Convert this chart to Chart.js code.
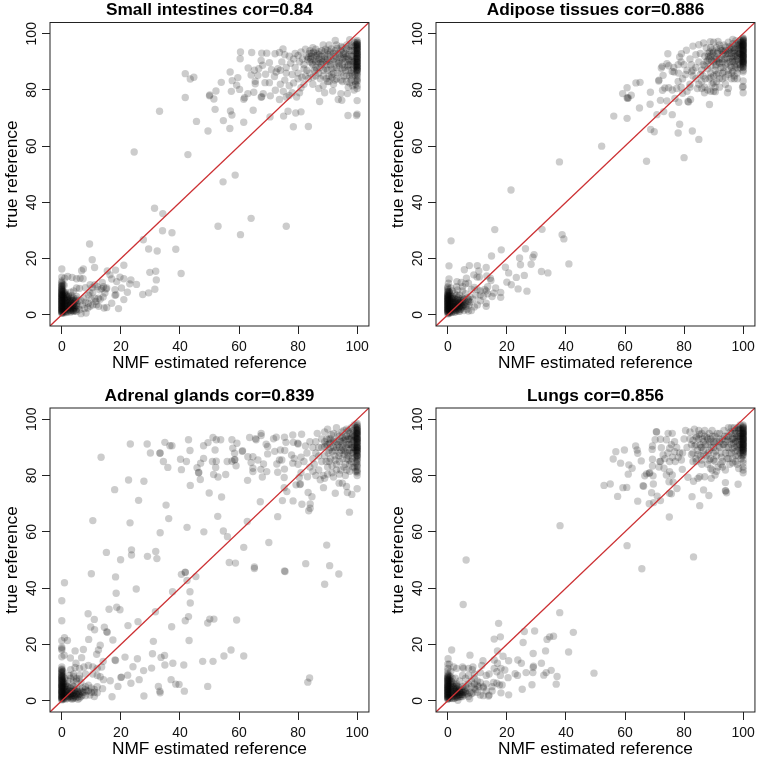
<!DOCTYPE html>
<html><head><meta charset="utf-8">
<script src="https://cdn.jsdelivr.net/npm/chart.js@4/dist/chart.umd.min.js"></script>
<style>html,body{margin:0;padding:0;background:#fff}canvas{position:absolute}</style>
</head><body>
<canvas id="c0" style="left:0;top:0"></canvas>
<canvas id="c1" style="left:386px;top:0"></canvas>
<canvas id="c2" style="left:0;top:386px"></canvas>
<canvas id="c3" style="left:386px;top:386px"></canvas>
<script>
const panelTitles=["Small intestines cor=0.84","Adipose tissues cor=0.886","Adrenal glands cor=0.839","Lungs cor=0.856"];
const xAxisTitle="NMF estimated reference";
const yAxisTitle="true reference";
const tickValues=[0,20,40,60,80,100];
const axisLimits=[-4,104];

const smallPoints=[[24.5,57.9],[33.1,72.4],[41.8,85.8],[43.5,83.9],[44.7,84.5],[41.8,77.3],[42.7,57],[45.6,68.8],[49.5,65.4],[50,77.9],[50.1,78.2],[51.5,76.8],[52.2,79.6],[51.9,73.1],[54,82.7],[54.7,69.1],[54.6,47.3],[58.7,49.7],[57,86.4],[57.7,83.3],[57.4,79.5],[57.1,72.5],[57.6,71.1],[56.9,66.3],[59.6,84.4],[59.2,81.7],[60.2,80.2],[60.4,91.1],[60.5,93.5],[61.6,68.5],[61.6,76.7],[61.9,77.2],[64.8,72.8],[64.3,93.3],[63.1,87.8],[64.1,85.3],[65,79.2],[65.5,82.2],[65.5,83.1],[63,78.7],[65.2,87],[66.7,87.6],[66.4,85.2],[67.5,90.5],[68,88.8],[67.7,93.1],[69.4,93.1],[67.5,77.4],[67.7,77.6],[68.2,78.7],[68.8,82.6],[70.3,82.6],[69,85.6],[70.6,77.9],[70.5,70.4],[72.3,79.9],[70.3,89.7],[71,87.2],[72.2,92.9],[73.7,93.3],[74.9,94.6],[72.6,86.4],[73.2,87.6],[73.7,76.6],[75.1,70.7],[76.6,72.4],[79.2,71.8],[81,72.2],[78.4,66.9],[83.5,67],[87.3,75.9],[93.6,76.6],[94.8,76.3],[96.9,70.9],[99.8,70.9],[100,71.4],[100,76.2],[91.7,79.6],[94.5,78.7],[96.7,78.7],[92.6,97.6],[97.5,97.9],
[31.4,37.9],[34.2,36],[34.1,29.9],[37.3,29.2],[27.6,26.7],[29.4,23.4],[32.3,22.7],[38.6,23.3],[29.8,15.1],[31.8,15.5],[40.4,14.7],[32,12.4],[31.5,9.1],[27.4,7.2],[29.4,7.8],[52.9,31.5],[60.5,28.5],[64.1,34.3],[76,31.5],[9.4,25.2],[10.3,19.6],[11.1,16.8],[0,16.3],[7.3,16.3],[6.7,15.7],[21,17.6],[18.2,15.9],[15.4,15.6],[16.3,14.2],[19.7,13.4],[21,12.8],[23.4,12.4],[23,11],[25.3,10.8],[16.9,12.7],[18.6,11.8],[13.7,11.5],[9.6,10.7],[11.2,10.7],[22.2,8],[21,5.4],[20.2,9.5],[18,8.9],[18.3,7.1],[18,6.9],[16.9,4.1],[19.2,2.2],[15.2,2.6],[14.3,2.4],[15.2,9.5],[14.1,10],[14.6,7.7],[12.9,8.9],[12.4,5.9],[11.2,5.9],[11.8,3.6],[9,4.1],[9.6,3],[8.2,.6],[6.5,.4],
[2,13.6],[3.5,13.3],[5,12.8],[6.2,13],[7.2,12.8],[1,13],[.8,10.5],[10.4,9.7],[8,9.6],[6,9.4],[5,9.5],[12,10],[13.5,9.3],[15,9.2],[10.5,8],[9,7],[7.5,6],[6.5,5],[8,4.5],[10,5.5],[11.5,4.7],[13,5.5],[14,6.3],[9.5,7.8],[7.7,2.2],[6,1.8],[5,1.2],[7,3.5],[10.5,3.5],[12.5,3],[8.8,2.4],
[72,84.8],[74,82],[75,79.5],[76,77.5],[77,78],[78,79],[79.5,77.5],[80.5,79],[75.5,83.5],[77,81.5],[78.5,82.5],[80,84],[81,80.8],[82,82],[83.5,84],[85,82],[87,80.5],[88.5,81.5],[89,79],[90,83],[92,82],[93,84],[95,83],[97,81],[99,80],[98,83.5],[74.5,90],[76,88],[77.5,89.5],[79,88],[80.5,90],[75.5,92.5],[77,92],[78.5,91],[80,92.3],[74,87],[76,86],[78,85.5],[80,86],[82,87.5],[83,92],[84,90],[84,94],[85,95],[85.5,92],[86,90],[86,88],[86.5,93],[87,91],[87,86],[88,89],[88,94],[88.5,96],[89,92],[89.5,90],[90,87],[90,94],[90.5,96],[91,92],[91,89],[92,86],[92,91],[92.5,94],[93,88],[93,96],[94,90],[94,92.5],[94.5,86],[95,95],[95,89],[95.5,91.5],[96,87],[96,93],[96.5,85],[96.5,96],[97,89],[97,91],[97.5,94],[98,87],[98,92],[98,96],[98.5,90],[98.5,85],[99,94],[99,88],[99,97],[99.3,91],[99.3,83],[84.5,92],[85,89],[85.5,87],[83.5,91.5],[84.5,93],[86,94.5],[87,92.5],[87.5,89.5],[88,91],[89,93.5],[89.5,87.5],[90,91],[90.5,85],[91,93.5],[91.5,87.5],[92,93],[93,90.5],[93.5,93],[94,88.5],[94.5,94],[95,91],[95.5,93.5],[96,90],[96.5,92],[97,87],[97.5,90],[97.5,85]];
const smallExtra=[[83.2,90.8],[83.8,93],[84.3,91],[84.7,89.6],[85.2,93.4],[85.6,90.7],[86.1,92.2],[86.3,87.2],[86.8,90],[87.1,93.6],[87.4,88],[87.9,92],[88.2,90],[88.6,87],[89.1,91],[89.3,94.5],[89.8,89],[90.2,92.5],[90.6,90],[91.2,94.6],[91.4,85.5],[91.8,90.3],[92.2,88],[92.7,92],[93.2,94.8],[93.7,89.5],[94.2,91.5],[94.6,95.5],[94.9,87.5],[95.3,92.7],[95.7,88],[96.2,91],[96.4,94.7],[96.8,88.5],[97.2,92.5],[97.3,95.5],[97.8,89],[97.9,86],[98.2,94],[98.3,90.5],[98.6,92],[98.7,87.5],[98.9,95.5],[99,90],[99.2,85.5],[99.4,93],[99.5,96],[99.6,88.5],[81.3,84.5],[82.5,85],[83,87],[84,86],[85,84.5],[86,85],[87.5,84],[88.5,85],[89.5,84],[90.5,83],[91.5,84.5],[92.5,83.5],[93.5,86],[94.5,83.5],[95.5,85],[96.5,83],[97.5,82.5],[98.5,81.5],[99.5,82],[79,93],[81,93.5],[82.5,94.5],[81.5,91],[82,89],
[.4,.9],[.4,2.7],[.4,4.6],[.4,6.6],[.4,8.4],[.4,10.6],[.9,1.6],[.9,3.6],[.9,5.6],[.9,7.6],[1.4,1.2],[1.4,3.1],[1.4,5.1],[1.4,7.1],[1.9,2],[1.9,4],[1.9,6],[2.4,2.6],[2.4,4.4],[2.4,6.4],[2.9,1.4],[2.9,3.4],[2.9,5.2],[3.4,2.2],[3.4,4.2],[3.4,6.7],[3.9,1.4],[3.9,3.2],[3.9,5.2],[4.4,2.4],[4.4,4.6],[4.9,3.2],[4.9,5.6]];
const smallEdgeY=[97.6,97,96.5,96,95.5,95,94.5,94,93.5,93,92.5,92,91.5,91,90.5,90,89.5,89,88.5,88,87.5,87,86,85,84,83,81.5,80.5,97,96,95,94,93,92,91,90,89,88,87,96.3,94.8,93.2,91.8,90.3,88.7,87.2,85.5,95.6,92.7,89.8,86.6,83.4,94.3,91.2,88.2];
const smallZeroY=[.5,1,1.5,2,2.5,3,3.5,4,4.5,5,5.5,6,6.5,7,7.5,8,8.5,9,9.5,10,10.5,11,11.5,12,13.4,.7,1.3,1.8,2.3,2.8,3.3,3.8,4.3,4.8,5.3,5.8,6.3,6.8,7.3,7.8,8.3,8.8,1.1,2.1,3.1,4.1,5.1,6.1,7.1,9.2,10.2];
const smallNearZero=[[.5,.5],[.5,2],[.5,4],[.5,6],[.7,8],[1,1],[1,3],[1,5],[1,7],[1.5,.8],[1.5,2.5],[1.5,4.5],[1.7,6.5],[2,1],[2,3],[2,5],[2.2,7],[2.5,1.5],[2.5,3.5],[2.5,5.5],[3,1],[3,2.5],[3,4],[3.2,6],[3.5,1.5],[3.5,3],[3.5,5],[4,1.2],[4,2.5],[4,4],[4,6],[4.5,1.5],[4.5,3.2],[4.7,5],[5,2],[5,4],[5,6.5],[5.5,2.8],[5.5,5],[.3,1.5],[.3,3],[.3,5],[.3,7],[.8,2.5],[.8,4],[.8,6],[1.2,2],[1.2,4],[1.2,8],[1.8,3.3],[1.8,5.5],[2.8,2],[2.8,4.7],[3.8,2],[3.8,3.6],[3,8],[4,8.5]];

const adiposePoints=[[21.4,44.4],[37.8,54.4],[52.1,60],[67.3,54.6],[80,55.9],[85,62.4],[82.8,65.4],[78,64.7],[78.5,67.8],[68.7,65.9],[69.9,65.1],[56.2,70.7],[60.7,69.9],[59.2,78.7],[60.7,80.8],[60.7,77.2],[60.9,77],[61.1,77.2],[62.1,78.1],[63.7,82.5],[65.1,82.7],[64.9,73.6],[68.5,74.9],[68.6,79.2],[70.8,71.2],[73.1,72.3],[76,71.2],[72,76.3],[74.2,76.1],[76.9,77],[78.2,75.6],[81.3,75.9],[81.5,75.7],[82.2,76.6],[88.6,74.8],[72.7,79.9],[73.5,80.7],[74.8,80.8],[71.4,83.2],[71.5,83.5],[72.9,85.2],[72.3,87.8],[72.6,88.4],[74.2,89.3],[74.8,88.6],[74.5,92.9],[76,86.6],[76.6,86.4],[78.1,86],[78.5,91.7],[79.1,92.9],[80.8,94.1],[83,95.6],[85,96.1],[88.9,97.2],[86.6,96.7],[91.5,97.3],[96.5,98],[100,83.2],[100,81.2],[99.8,81],[100,79],[94.7,79],[86.9,79],[90.6,79.4],
[31.9,30.4],[15.9,30.3],[38.7,28.5],[39.3,27],[1.1,26.3],[18.1,23.1],[14.8,20.9],[26.3,23.5],[24.3,20.2],[29.2,21.4],[28.8,20.5],[24.6,17.8],[28.2,18],[41,18.1],[.4,17.4],[7.3,17.5],[10,17.5],[5.6,16],[13,16.8],[19.5,16.9],[20.6,14.9],[31.7,15.4],[33.9,14.9],[25.9,14],[23.2,13.3],[20,11.6],[21.5,10.7],[23.8,9.2],[26.8,8.4],[17.9,7.9],[17.9,6.2],[10.5,15.6],[8.8,14.2],[9.9,13.4],[10.7,13.4],[6.3,13],[.4,12.7],[.2,11.2],[3.1,11.8],[13.2,13.8],[14.4,13],[14.6,12.2],[16.2,9.5],[15.6,7.7],[15,6.5],[13,3],[13,4.1],
[4.5,11.5],[6,11],[7,11.2],[5,10],[3,10],[8,9],[9,9.7],[10,9],[11,8.5],[12.5,9],[13,8.5],[13.5,7.5],[12,6.5],[11,7],[9.5,7],[8.5,5.5],[7.5,4.5],[7,5.5],[7.2,3.5],[6.5,2],[5.5,1.5],[7,1.3],[8,1.5],[9,2.8],[10,3.5],[11,5],[7.5,6.3],[6,7.5],[5,8.5],[13.5,10],
[76,80],[77.5,80.5],[79,81],[79.5,78.8],[81,79.5],[82,82],[78,83],[79.5,84],[80.5,85.5],[82,81],[83,85],[84.5,80.5],[85,82],[86,83],[86.5,85],[87,81],[88,80],[89,79.5],[90,79.5],[89.5,82],[88.5,84],[89,86],[90,85],[91,83],[92,81],[93,84],[94,82],[95,80.5],[96,84],[97,85],[98,86],[76.5,88],[78,89],[79,90],[80,89],[81,87],[82,91],[83,87],[82.5,89],[84,92.5],[84,88],[85,90],[85.5,93],[86,87],[86.5,89],[87,92],[87.5,95],[87.5,90],[88,93],[88,87.5],[88.5,91],[89,95],[89,88.5],[89.5,93],[90,90],[90,97],[90.5,87],[90.5,92],[91,95],[91,89],[91.5,86],[91.5,93.5],[92,91],[92,96],[92.5,88],[92.5,94],[93,90],[93,92.5],[93.5,86.5],[93.5,96],[94,94],[94,89],[94.5,91.5],[95,87],[95,97],[95.5,93],[95.5,90],[96,95],[96,88],[96,92],[96.5,86.5],[96.5,96.5],[97,94],[97,90],[97.5,92],[97.5,97.5],[97.5,88],[98,95],[98,91],[98,89],[98.5,97],[98.5,93],[99,95.5],[99,91.5],[99,89],[99,97.5],[87,88.5],[88,90.5],[89,92],[90,93.5],[91,91],[92,89.5],[93,94],[94,92.8],[95,94],[95.5,95.5],[96.5,91],[97,93],[98,93.5],[99,93],[98.3,96]];
const adiposeExtra=[[88.2,92],[88.7,93.5],[89.3,90.5],[89.7,94.3],[90.3,91],[90.7,88.5],[91.2,93],[91.6,90],[92.2,94.8],[92.7,91],[93.2,88],[93.4,93.5],[93.8,91],[94.2,95.3],[94.6,89.5],[94.8,93],[95.2,91],[95.6,94.5],[95.8,88.5],[96.2,93.2],[96.4,90.2],[96.7,95],[96.9,92],[97.1,88.5],[97.3,94.5],[97.6,90.5],[97.8,96.5],[98.1,92.3],[98.2,87.5],[98.4,94.7],[98.6,90],[98.8,96],[98.9,92.8],[99.1,88],[99.2,94.5],[99.3,97],[99.4,90.5],[99.5,92.5],[99.6,95.5],[89,84.5],[90,82.5],[91,85.5],[92,84],[93,86],[94,84.5],[95,85.5],[96,86],[97,84],[98,84],[86,80.5],[87.2,84],[90.5,81],[85.5,85.5],[84,84],[82.5,86.5],
[.3,.6],[.3,1.9],[.3,3.1],[.3,4.3],[.3,5.6],[.3,6.9],[.3,8.3],[.6,1.4],[.6,2.7],[.6,4],[.6,5.4],[.6,7.5],[1.2,.8],[1.2,2.1],[1.2,3.3],[1.2,4.7],[1.2,5.6],[1.7,1.9],[1.7,3],[1.7,4.3],[1.7,5.8],[2.2,1],[2.2,2.2],[2.2,3.6],[2.2,5],[2.7,1.8],[2.7,3],[2.7,4.6],[3.2,2.4],[3.2,3.8],[3.2,5.4],[3.7,1.3],[3.7,2.8],[3.7,4.2],[4.2,2],[4.2,3.4],[4.2,5.6],[4.7,2.8],[4.7,4.4],[5.2,3.4],[5.2,5.2]];
const adiposeEdgeY=[98.5,98,97.5,97,96.5,96,95.5,95,94.5,94,93.5,93,92.5,92,91.5,91,90.5,90,89.5,89,88.5,88,87,86.5,98.2,97.2,96.2,95.2,94.2,93.2,92.2,91.2,90.2,89.2,88.2,97.7,96.7,95.7,94.7,93.7,92.7,91.7,90.7,89.7,96,94,92,90];
const adiposeZeroY=[.3,1,1.5,2,2.5,3,3.5,4,4.5,5,5.5,6,6.5,7,7.5,8,8.5,9,9.5,10,.7,1.3,1.8,2.3,2.8,3.3,3.8,4.3,4.8,5.3,5.8,6.3,6.8,7.3,1.1,2.1,3.1,4.1,5.1,6.1];
const adiposeNearZero=[[.5,.5],[.5,2],[.5,3.5],[.5,5],[.5,6.5],[.5,8],[.8,1],[.8,3],[.8,4.5],[.8,7],[1,1.5],[1,2.5],[1,4],[1,6],[1,9.5],[1.5,1],[1.5,2.5],[1.5,3.5],[1.5,5],[1.5,6.5],[1.5,8.5],[2,1.5],[2,3],[2,4.5],[2,6],[2.3,7.5],[2.5,1],[2.5,2.5],[2.5,4],[2.5,5.5],[3,1.5],[3,3],[3,4.5],[3,7],[3.3,8.8],[3.5,2],[3.5,3.5],[3.5,5],[3.5,6.2],[4,1.2],[4,2.8],[4,4.2],[4,7],[4.5,2],[4.5,3.5],[4.5,5],[5,2.8],[5,4.2],[5,6],[5.5,3.5],[5.5,5.5],[6,3],[6,4.5],[6.5,3.8],[6.5,6],[7,4.8]];

const adrenalPoints=[[13.3,86.5],[23.2,91.2],[28.9,91.2],[34.9,91.8],[36.6,90.6],[37.3,90.6],[30,88],[33.2,87.9],[33.3,88],[34.4,85],[35.9,82.9],[40.2,85.8],[42.2,85],[40.5,82.1],[42.9,92.7],[43.4,88.9],[48,90.6],[49.5,91.7],[51.2,93.5],[52.3,92.7],[53.8,92.7],[48,86.1],[47,84.4],[45.8,82.8],[46.3,81],[46.4,81.1],[46.9,78.6],[43.5,76.5],[51.9,89.1],[51,85],[52.3,85.1],[52.1,82.9],[51.4,80.4],[52.9,79.5],[55.5,80.4],[49.9,73.8],[54.1,72.4],[22.6,78.4],[27.8,78],[17.9,75],[26,71.2],[35.3,69.5],[36.2,64.7],[10.5,64],[23.1,63.2],[42.4,61.6],[33.3,59.7],[48.1,60],[52.8,65.5],[54.7,60.3],[56.1,58.3],[61.6,54.5],[70.1,56.2],[62.8,63.7],[15.1,52.7],[19.9,50.1],[23.6,53.6],[23.6,51.8],[29,51.3],[32.2,50.5],[31.8,53],[56.7,49.1],[58.8,48.9],[65.2,47.5],[75.4,46.1],[82.6,48.7],[89.7,55.3],[90.7,48],[41.8,45.7],[73.1,65.4],[67.2,70.7],[74.7,71.1],[78.3,71],[81.3,69.8],[84.1,69.9],[84.1,68.4],[83.6,67.5],[83.4,74],[84.7,72.5],[97.4,67],[88.6,75.7],[92.6,73.7],[93.9,77.3],[95,77.3],[96.4,76.1],[96.7,74],[98.2,73.3],[100,75.3],[79.3,76.7],[80.8,77],[80.6,76.8],[75.3,75.7],[76.2,74.3],[75.3,79.3],[83.2,79.6],[80.4,79.3],[81,81],[62.9,78.3],[67.9,79.5],[64.7,81.4],[64.7,82.6],[67.4,82.2],[69.4,81.4],[73.1,81.2],[75.4,82.3],[57.6,92.7],[59.3,91.5],[57.9,89.7],[58.5,87.9],[61.1,88.6],[61.2,88.8],[56,85],[57.6,85.1],[58.5,85.5],[58.6,85.7],[59,83.5],[63.6,93.5],[65.6,93.1],[65.8,92.7],[67.5,95],[67.5,94.2],[63,86.7],[64.7,86.7],[64.1,84.6],[66.4,85.5],[68.3,84.1],[69.7,90.3],[69.2,91.1],[72.6,93.6],[71.7,93.1],[75.4,93.6],[75.9,91.8],[78.2,94.4],[81.2,94.7],[78.4,91.8],[79.9,91.5],[80,91.2],[72.1,88.6],[74,89.1],[75.5,88.9],[77.8,87.3],[78.7,86.1],[73.7,85.5],[72.8,84.1],[74.5,85.5],[78.2,84.4],[69.7,87.7],
[10,45.1],[18.2,44],[.9,41.9],[25.2,39.7],[18.4,38.2],[0,35.5],[37.5,38.7],[43.4,38.7],[43.5,34.7],[40.5,44.9],[41.8,45.6],[42.4,42.7],[45.4,44.1],[18.6,33.2],[19.7,32.3],[16,32.5],[31.7,31.6],[8.9,30.9],[11,28.9],[0,28.4],[25.8,28.1],[22.4,26.7],[9.8,26.2],[11.1,25.2],[14.4,26.1],[15.2,24.5],[15.4,24.3],[37.2,26.3],[42.9,29.9],[41.8,28.4],[49.4,27.6],[50.1,29],[51.5,29],[59.2,28.7],[.9,22.4],[0,21.3],[1.9,21.4],[9.1,21.8],[17.3,21.6],[31,21.1],[43.1,21.4],[13,19.7],[12.4,18],[11.8,16.5],[7.3,18.2],[4.5,17.7],[0,19],[0,18.5],[0,18],[.8,16.2],[0,15.6],[2.9,15.2],[6.7,15.3],[4.8,13.3],[18,14.5],[18.2,14.3],[21.4,15.5],[25.6,14.9],[30.7,16.7],[33.6,15.4],[34.8,16.1],[37.6,13.3],[34.9,12.7],[41.3,12.7],[47.7,14],[51.2,14],[54.9,15.9],[57.3,18],[61.6,15.9],[24.1,12.1],[27.7,10.7],[30.4,11.6],[22.3,9.1],[20,8.3],[20.2,8.4],[26.2,7.5],[23.4,6.2],[19,5.1],[16.4,7.1],[14.1,7.5],[37,7.5],[38.6,5.9],[39.7,5.8],[41.5,3.4],[49.4,5.1],[32.7,5.1],[33.2,3.4],[33.3,2.8],[27.8,1.7],[17,1.4],[83.9,8.1],[83.3,6.6],[89,41.4],[93.8,45],[75.6,45.9],[65.2,47],
[14,14],[13.5,12],[12,11.5],[10.5,12],[9,12.5],[7.5,12],[6,11.5],[4.5,11.8],[3,11],[2.5,9],[4,9.5],[6,9],[8,9.5],[10.5,9.5],[12,9],[13,8.5],[13.8,4.3],[12,5],[11,3],[9.5,2],[8.5,3.5],[8,5],[6.5,6.5],[5,7.8],[4,7],[3.5,5.5],[11,1.5],[12,2.8],[10,4.5],[9,5.5],[7,3],[6,1],[5.5,.5],[3.5,.5],
[84,83],[85,86],[85.5,84],[86,80],[86,88],[87,82],[87,90],[88,85],[88,93],[88.5,80],[89,87],[89,95.5],[89.5,91],[90,83],[90,96.5],[90.5,89],[91,86],[91,93],[91.5,81],[92,90],[92,95],[92.5,87],[93,84],[93,97],[93.5,91],[94,88],[94,94],[94.5,82],[95,90],[95,86],[95.5,96],[95.5,92.5],[96,84],[96,88.5],[96.5,94],[96.5,91],[97,87],[97,96],[97.5,89],[97.5,93],[98,85],[98,91],[98,97],[98.5,88],[98.5,94.5],[99,90],[99,83],[99,92.5],[99,98],[85,90],[84,92],[86,92],[86.5,95],[87,87],[88,90],[89,92],[89.5,85],[90,91],[90.5,93],[91,90],[92,92.5],[92.5,89],[93,92],[94,90],[94.5,92],[95,93.5],[95.5,89],[96,93],[96.5,86],[97,91],[97.5,95],[98,93],[98.5,90],[85,81.5],[87.5,78.5],[89,79],[90,80.5],[92,79.5],[94,80.5],[96,80],[97.5,81.5],[82,85],[83,88],[81,86.5],[82.5,90.5],[80,84]];
const adrenalExtra=[[89,90.3],[89.7,93],[90.2,88],[90.8,91.5],[91.2,94.5],[91.6,88.5],[92.1,92],[92.6,85.5],[93.1,90],[93.4,94.5],[93.8,87],[94.2,92.3],[94.6,89],[94.9,95.5],[95.2,91.3],[95.6,87.5],[95.9,93.7],[96.2,90],[96.4,96.5],[96.7,88],[97,93],[97.2,85.5],[97.4,91],[97.7,95.5],[97.9,88],[98.1,93.5],[98.2,90],[98.4,86],[98.6,92.3],[98.7,96],[98.9,88.7],[99.1,94],[99.2,91],[99.3,86.5],[99.4,97],[99.5,93.5],[99.6,89],[99.7,84.5],[99.7,95],[90.5,85],[91.5,83.5],[93,82],[94,85],[95.5,83],[96.5,82],[97.5,84],[98.5,83],[99.5,81.5],
[.4,.7],[.4,2.6],[.4,5.2],[.4,6.7],[.4,8.6],[.4,10.4],[.8,1.6],[.8,3.6],[.8,4.8],[1.4,.6],[1.4,3.1],[1.4,5.3],[1.8,1.9],[1.8,3.9],[2.2,1.3],[2.2,3.2],[2.7,2.3],[2.7,4.6],[3.2,1.6],[3.2,3.4],[3.7,.9],[3.7,2.6],[4.2,1.8],[4.2,3.8],[4.7,2.6],[4.7,1],[5.2,3.4],[5.7,2.2]];
const adrenalEdgeY=[98.5,98,97.5,97,96.5,96,95.5,95,94.5,94,93.5,93,92.5,92,91.5,91,90.5,90,89.5,89,88.5,88,87,86,85,84,83,82,81,80,97,96,95,94,93,92,91,90,89,88,87,96.3,94.7,93.2,91.8,90.3,88.7,87.3,85.5,83.5,81.5,95.4,92.7,89.8,86.6];
const adrenalZeroY=[.3,.8,1.3,1.8,2.3,2.8,3.3,3.8,4.3,4.8,5.3,5.8,6.3,6.8,7.3,7.8,8.3,8.8,9.3,9.8,10.3,10.8,11.3,12,1,2,3,4,5,6,7,8,9,10,11,.5,1.5,2.5,3.5,4.5,5.5,6.5,7.5,8.5,1.2,3.2,5.2];
const adrenalNearZero=[[.5,.5],[.5,2],[.5,4],[.5,6],[1,1],[1,3],[1,5],[1,8],[1.5,1.5],[1.5,4],[2,.8],[2,2.5],[2,5],[2,7],[2.5,1.5],[2.5,3.5],[3,1],[3,2.5],[3,4.5],[3,8],[3.5,1.8],[3.5,3.2],[4,1],[4,2.8],[4,5],[4,8.5],[4.5,1.6],[4.5,3.5],[5,2.2],[5,4.5],[5,7],[5.5,3],[5.5,1.4],[6,2.5],[6,4],[6,7.8],[6.5,1.5],[6.5,3.3],[7,2],[7,4.5],[7.5,3],[8,1.8],[8,4],[9,3.5],[10,3],[11,4],[.3,1.5],[.3,3],[.3,4.5],[.3,7.5],[.8,2.2],[.8,6.5],[1.3,2.5],[1.3,6]];

const lungsPoints=[[6.2,50],[38,62.2],[60.7,55.1],[83.2,51.1],[65.7,46.9],[75,65.3],[85.3,69.3],[52.9,76.5],[55,77],[59.3,75.7],[60.6,75.8],[57.5,72.6],[64.3,70.9],[66.1,76.4],[66.3,76.2],[68.2,70],[69.7,70.4],[72,71.1],[69,73.9],[70.9,72.7],[69.6,77],[75.1,73.7],[75.7,73.5],[77.6,75.4],[76.3,77.6],[74.9,77.8],[82.7,72.5],[86.6,74.9],[88.4,72.9],[94,74.6],[94.1,74.5],[94.4,73.9],[98.3,76.9],[94,77.5],[56,85.9],[56.9,88.5],[59.8,89.1],[58.5,84.4],[61.3,83.8],[62.4,82.6],[61.1,80.5],[63.6,90.5],[64.1,89.1],[64.3,87.9],[65.5,85.2],[66.7,79.9],[67.3,80.6],[68.2,80.8],[68.4,81],[69.5,79.9],[69.3,83.4],[69.3,85.8],[69.2,89.3],[69.3,90.5],[70.6,95.6],[70.7,95.5],[70.2,92.7],[72,92.9],[74.6,95],[76,95],[72.3,89.9],[74,92.7],[75.7,91],[76.8,92],[75.1,89.7],[76.8,88.5],[72.9,87.3],[71.8,85],[71.5,83],[73.2,82.6],[75.1,81.4],[74,80.2],[76,80.2],[75.1,85],[79.1,85.5],[79.4,82.2],[81.3,79.4],[83.2,78],[85.3,79.6],[84.7,79],[87,79.6],[89.2,79],[90.5,80.2],[84.1,85],
[5.2,34.2],[37.9,31.3],[17.2,27.5],[17.8,22.7],[15.7,21.9],[25.9,24.6],[29.4,24.8],[42.5,24.3],[35.8,22.9],[34.5,22.7],[33.6,21.8],[25.5,20.7],[1.3,18],[7.5,16.2],[16.8,17.7],[18.7,15.8],[28.9,16.8],[33.1,17.7],[40.9,17.3],[.1,14.9],[15.7,14.5],[20.6,14.2],[23.7,14.5],[24.9,13.3],[31.7,13.3],[29,12.3],[28.9,11.8],[16.8,13.3],[11.9,14.2],[15.7,11.5],[18,11.5],[19.3,10.9],[16.6,10.3],[17.8,9],[26.5,10],[28.8,10],[35,10.8],[33.3,10],[32.5,9.1],[22.8,9.6],[23.6,9],[20.4,8.2],[37,8.6],[49.5,9.8],[36.7,5.9],[28.5,5.7],[25.2,4.1],[16.6,6.2],[17.5,5.6],[18.4,5.6],[18,2.8],[20.6,2.1],[13.8,1.7],[7.4,.7],[3.4,.2],
[.5,13],[2,12],[3,11.5],[5,12],[5.3,11.5],[7,11.5],[8.5,12],[8.3,11],[11.5,12.5],[11,10],[9,9.5],[7,9],[6,8],[13,9],[14,9.5],[13,6],[15,5],[15.5,6.5],[12,5],[11,6.5],[10,7],[9,8],[8,7],[13,3.5],[12,4.5],[10,3],[9,4.5],[8,2.5],[7,1.5],[6,3],[11,2],[14,2],[15,3.5],[12,1.8],[10.5,5],
[72,85],[73.5,86],[74.5,88],[76,86.5],[77,85],[78,86.5],[78.5,88],[77.5,90],[79.5,88],[80,93],[80.5,96],[81,90],[82,95.5],[82,93],[82.5,91],[83,88],[83,85],[83.5,96.5],[84,94],[84,91],[84.5,89],[85,96],[85,93],[85.5,87],[85.5,91],[86,95],[86,85.5],[86.5,92],[86.5,89],[87,96],[87,94],[87.5,87],[88,91],[88,84],[88.5,95],[88.5,89],[89,93],[89,86],[89.5,82],[89.5,96],[90,90],[90,88],[90.5,94],[90.5,85],[91,92],[91,87],[91.5,83],[92,95],[92,90],[92.5,88],[93,93],[93,85],[93.5,96],[93.5,91],[94,88],[94,82],[94.5,94],[94.5,86],[95,97],[95,90],[95.5,92],[95.5,84],[96,95],[96,88],[96.5,93],[96.5,86],[97,97],[97,90],[97.5,92],[97.5,95],[97.5,87],[98,94],[98,89],[98,84],[98.5,97],[98.5,91],[98.5,96],[99,93],[99,88],[99,95],[99,98],[99.3,90],[99.3,86],[82.5,87.5],[84,86],[86,90],[88,93],[90,92],[92,93],[94,92],[95,94],[96,91],[97,93],[98,92],[98.5,94],[96,97],[97,95],[98,96.5]];
const lungsExtra=[[83,92.5],[83.5,90.5],[84.2,93.5],[84.7,87.5],[85.2,94.7],[85.7,90],[86.2,93],[86.7,87.5],[87.2,91],[87.7,93.5],[88.2,88],[88.7,92],[89.2,90],[89.7,94],[90.2,91.5],[90.7,88.7],[91.2,95],[91.7,90.5],[92.2,92],[92.7,86.5],[93.2,91],[93.7,94],[94.2,90],[94.7,92.7],[95.2,88],[95.7,95.5],[96.2,93],[96.4,89.5],[96.8,91.5],[97.2,96],[97.3,88.5],[97.7,93.5],[97.9,90.5],[98.2,97],[98.3,87],[98.6,93],[98.7,89.5],[98.9,91],[99.1,96.5],[99.2,94],[99.4,89],[99.5,92],[99.6,95],[99.6,87],[86,84],[88.5,85.5],[90,85.5],[92.5,84],[95,86],[96.5,84.5],[97.5,85],[91,81.5],[93,83],[89,82.5],[98.5,82.5],
[.4,1.3],[.4,3.2],[.4,5.4],[.4,7.3],[.4,9],[.9,2],[.9,4],[.9,6],[.9,8.5],[1.4,.8],[1.4,2.6],[1.4,4.5],[1.4,6.7],[1.9,1.8],[1.9,3.2],[1.9,5],[2.4,1],[2.4,2.5],[2.4,4.3],[2.9,1.8],[2.9,3.5],[2.9,5.4],[3.4,1.2],[3.4,2.8],[3.9,2.2],[3.9,3.8],[4.4,1.4],[4.4,3],[4.9,2.2],[5.4,3]];
const lungsEdgeY=[98,97.5,97,96.5,96,95.5,95,94.5,94,93.5,93,92.5,92,91.5,91,90.5,90,89.5,89,88.5,88,87.5,87,85.5,84.5,83,82,81,97.2,96.2,95.2,94.2,93.2,92.2,91.2,90.2,89.2,88.2,96.7,95.7,94.7,93.7,92.7,91.7,90.7,89.7,95,93,91,89];
const lungsZeroY=[.5,1,1.5,2,2.5,3,3.5,4,4.5,5,5.5,6,6.5,7,7.5,8,8.5,9,9.5,10.5,11.5,13,.7,1.3,1.8,2.3,2.8,3.3,3.8,4.3,4.8,5.3,5.8,6.3,6.8,7.3,7.8,8.3,1.1,2.1,3.1,4.1,5.1];
const lungsNearZero=[[.5,.8],[.5,2.5],[.5,4.5],[.5,6.5],[.5,8],[1,1],[1,3],[1,5],[1,7],[1,10.5],[1.5,1.5],[1.5,3.5],[1.5,5.5],[1.5,8],[2,.8],[2,2.5],[2,4],[2,6],[2.5,1.5],[2.5,3.5],[2.5,5],[2.5,8],[3,1.2],[3,2.8],[3,4.2],[3,6],[3.5,2],[3.5,3.5],[3.5,5],[4,1.5],[4,3],[4,4.5],[4,7],[4.5,2.2],[4.5,3.8],[5,1.5],[5,3],[5,5],[5,9],[5.5,4],[5.5,2],[6,3.5],[6,5.5],[6.5,2.5],[6.5,4.5],[7,6],[7.5,3],[8,5],[8.5,2.8],[9,6],[9.5,4],[10,5.5]];

const datasetsOf=[
 [smallPoints,smallEdgeY,smallZeroY,smallNearZero,smallExtra],
 [adiposePoints,adiposeEdgeY,adiposeZeroY,adiposeNearZero,adiposeExtra],
 [adrenalPoints,adrenalEdgeY,adrenalZeroY,adrenalNearZero,adrenalExtra],
 [lungsPoints,lungsEdgeY,lungsZeroY,lungsNearZero,lungsExtra]];

const boxPlugin={id:'box',afterDraw(c){const a=c.chartArea,g=c.ctx;g.save();g.strokeStyle='#222';g.lineWidth=1;g.strokeRect(a.left,a.top,a.right-a.left,a.bottom-a.top);g.restore();}};
const FONT='"Liberation Sans", Arial, sans-serif';
datasetsOf.forEach((d,i)=>{
 const cv=document.getElementById('c'+i);cv.width=374;cv.height=374;cv.style.width='374px';cv.style.height='374px';
 const pts=[...d[0],...d[3],...d[4],...d[1].map(y=>[100,y]),...d[2].map(y=>[0,y])].map(p=>({x:p[0],y:p[1]}));
 const top=i<2?22.5:22;
 const axisTicks=s=>{s.ticks=tickValues.map(v=>({value:v}));};
 new Chart(cv,{type:'scatter',plugins:[boxPlugin],data:{datasets:[
  {type:'scatter',showLine:true,data:axisLimits.map(v=>({x:v,y:v})),borderColor:'#cc3033',borderWidth:1.3,pointRadius:0,fill:false,order:0},
  {data:pts,backgroundColor:'rgba(0,0,0,0.2)',borderColor:'rgba(0,0,0,0)',borderWidth:0,pointRadius:3.7,order:1}
 ]},options:{responsive:false,animation:false,devicePixelRatio:1,
  layout:{padding:{left:0,right:4,top:0,bottom:0}},
  plugins:{legend:{display:false},tooltip:{enabled:false},
   title:{display:true,fullSize:false,text:panelTitles[i],color:'#000',font:{family:FONT,size:17.3,weight:'bold',lineHeight:1.2},padding:{top:0,bottom:top-20.76}}},
  scales:{
   x:{type:'linear',min:axisLimits[0],max:axisLimits[1],afterBuildTicks:axisTicks,afterFit:s=>{s.height=48;},
    grid:{drawOnChartArea:false,drawTicks:true,tickLength:8,tickColor:'#222',tickWidth:1},border:{display:false},
    ticks:{color:'#111',font:{family:FONT,size:14},padding:5,maxRotation:0,minRotation:0,autoSkip:false,callback:v=>String(v)},
    title:{display:true,text:xAxisTitle,color:'#000',font:{family:FONT,size:17.3},padding:{top:4,bottom:0}}},
   y:{type:'linear',min:axisLimits[0],max:axisLimits[1],afterBuildTicks:axisTicks,afterFit:s=>{s.width=50;},
    grid:{drawOnChartArea:false,drawTicks:true,tickLength:8,tickColor:'#222',tickWidth:1},border:{display:false},
    ticks:{color:'#111',font:{family:FONT,size:14},padding:-2,minRotation:90,maxRotation:90,crossAlign:'center',autoSkip:false,callback:v=>String(v)},
    title:{display:true,text:yAxisTitle,color:'#000',font:{family:FONT,size:17.3},padding:{top:2,bottom:0}}}
  }}});
});
</script>
</body></html>
